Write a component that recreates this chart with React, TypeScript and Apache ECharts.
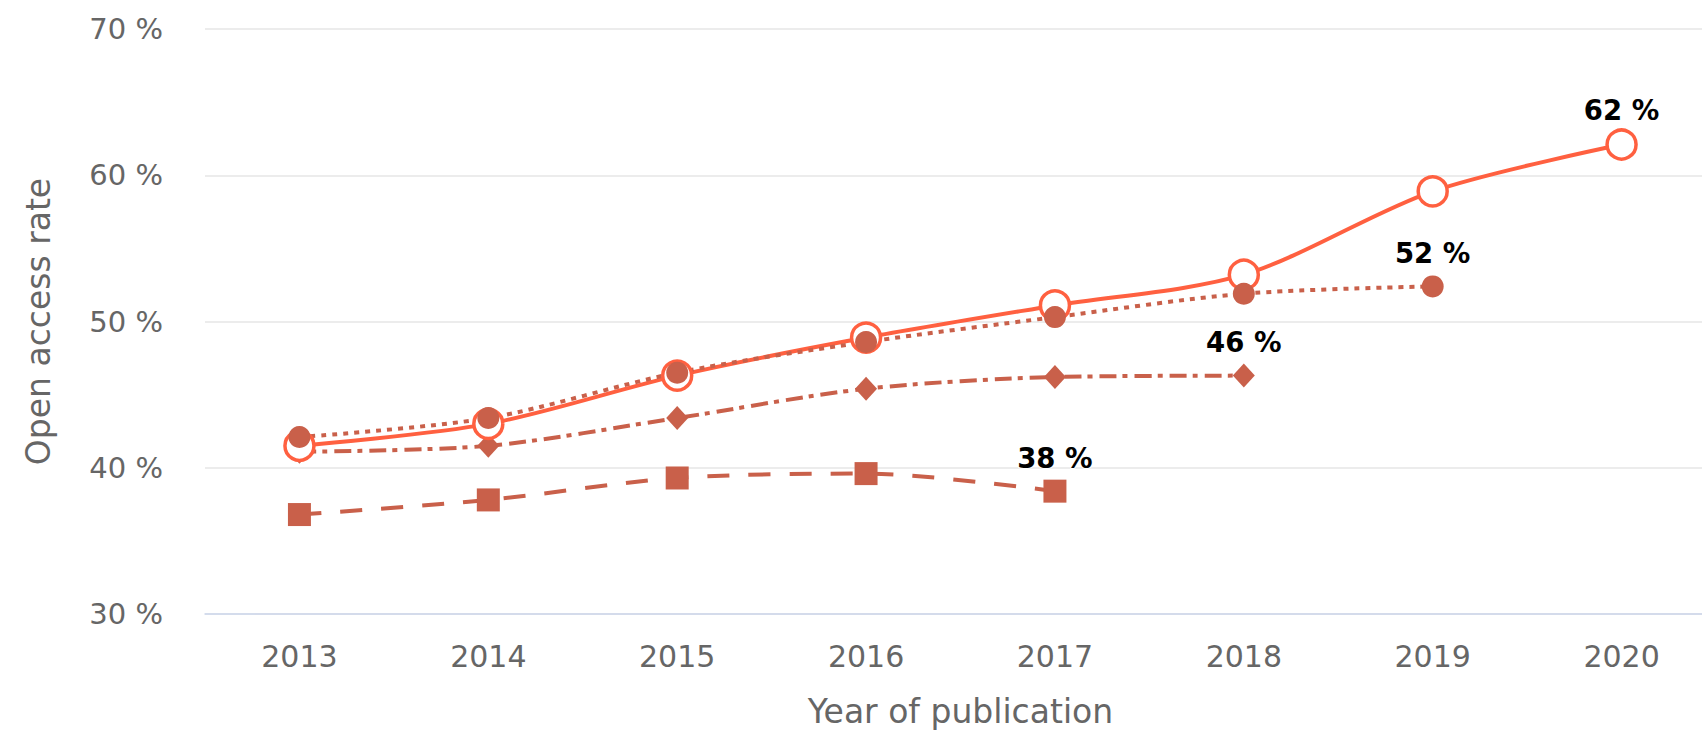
import React, { useEffect, useRef } from "react";
import * as echarts from "echarts";

const years = ["2013", "2014", "2015", "2016", "2017", "2018", "2019", "2020"];
const solidSeries = [41.5, 43.0, 46.3, 48.9, 51.1, 53.2, 58.9, 62.1];
const dottedSeries = [42.1, 43.4, 46.5, 48.6, 50.3, 51.9, 52.4];
const dashDotSeries = [41.1, 41.5, 43.4, 45.4, 46.2, 46.3];
const dashedSeries = [36.8, 37.8, 39.3, 39.6, 38.4];
const yTicks = [30, 40, 50, 60, 70];

const FONT = "'DejaVu Sans', Verdana, sans-serif";
const BRIGHT = "#ff6040";
const DARK = "#c9604a";

function withEndLabel(values: number[], symbolSize: number) {
  return values.map((v, i) =>
    i === values.length - 1
      ? {
          value: v,
          label: {
            show: true,
            position: "top",
            distance: 19 - symbolSize / 2,
            formatter: (p: any) => `${Math.round(p.value)} %`,
            fontFamily: FONT,
            fontSize: 27.5,
            fontWeight: "bold",
            color: "#000",
            textBorderColor: "#fff",
            textBorderWidth: 2,
          },
        }
      : v
  );
}

export default function App() {
  const ref = useRef<HTMLDivElement>(null);
  useEffect(() => {
    if (!ref.current) return;
    const chart = echarts.init(ref.current, null, { renderer: "svg" });
    chart.setOption({
      animation: false,
      backgroundColor: "#ffffff",
      grid: { left: 205, top: 29, width: 1511, height: 585, outerBoundsMode: "none", containLabel: false },
      xAxis: {
        type: "category",
        data: years,
        boundaryGap: true,
        axisLine: { show: true, lineStyle: { color: "#ccd6eb", width: 1.5 } },
        axisTick: { show: false },
        axisLabel: { color: "#666", fontSize: 30, fontFamily: FONT, margin: 27 },
        name: "Year of publication",
        nameLocation: "middle",
        nameGap: 81,
        nameTextStyle: { color: "#666", fontSize: 33, lineHeight: 33, fontFamily: FONT },
      },
      yAxis: {
        type: "value",
        min: yTicks[0],
        max: yTicks[yTicks.length - 1],
        interval: 10,
        axisLine: { show: false },
        axisTick: { show: false },
        axisLabel: { color: "#666", fontSize: 29, fontFamily: FONT, margin: 42, formatter: "{value} %" },
        splitLine: { lineStyle: { color: "#e6e6e6", width: 1.5 } },
        name: "Open access rate",
        nameLocation: "middle",
        nameRotate: 90,
        nameGap: 150,
        nameTextStyle: { color: "#666", fontSize: 33, fontFamily: FONT },
      },
      series: [
        {
          type: "line",
          name: "dashed",
          data: withEndLabel(dashedSeries, 23),
          smooth: 0.3,
          symbol: "rect",
          symbolSize: 23,
          itemStyle: { color: DARK },
          lineStyle: { color: DARK, width: 4, type: [22, 19], cap: "butt" },
        },
        {
          type: "line",
          name: "dashdot",
          data: withEndLabel(dashDotSeries, 22),
          smooth: 0.3,
          symbol: "diamond",
          symbolSize: [22, 24],
          itemStyle: { color: DARK },
          lineStyle: { color: DARK, width: 4, type: [17, 6, 5, 7], cap: "butt" },
        },
        {
          type: "line",
          name: "solid",
          data: withEndLabel(solidSeries, 29),
          smooth: 0.3,
          symbol: "circle",
          symbolSize: 29,
          itemStyle: { color: "#fff", borderColor: BRIGHT, borderWidth: 3.5 },
          lineStyle: { color: BRIGHT, width: 4 },
        },
        {
          type: "line",
          name: "dotted",
          data: withEndLabel(dottedSeries, 22),
          smooth: 0.3,
          symbol: "circle",
          symbolSize: 22,
          itemStyle: { color: DARK },
          lineStyle: { color: DARK, width: 4, type: [5, 6], cap: "butt" },
        },
      ],
    });
    return () => chart.dispose();
  }, []);
  return (
    <div
      style={{
        position: "fixed",
        left: 0,
        top: 0,
        width: 1702,
        height: 734,
        overflow: "hidden",
        background: "#fff",
      }}
    >
      <div ref={ref} style={{ width: 1716, height: 734 }} />
    </div>
  );
}
